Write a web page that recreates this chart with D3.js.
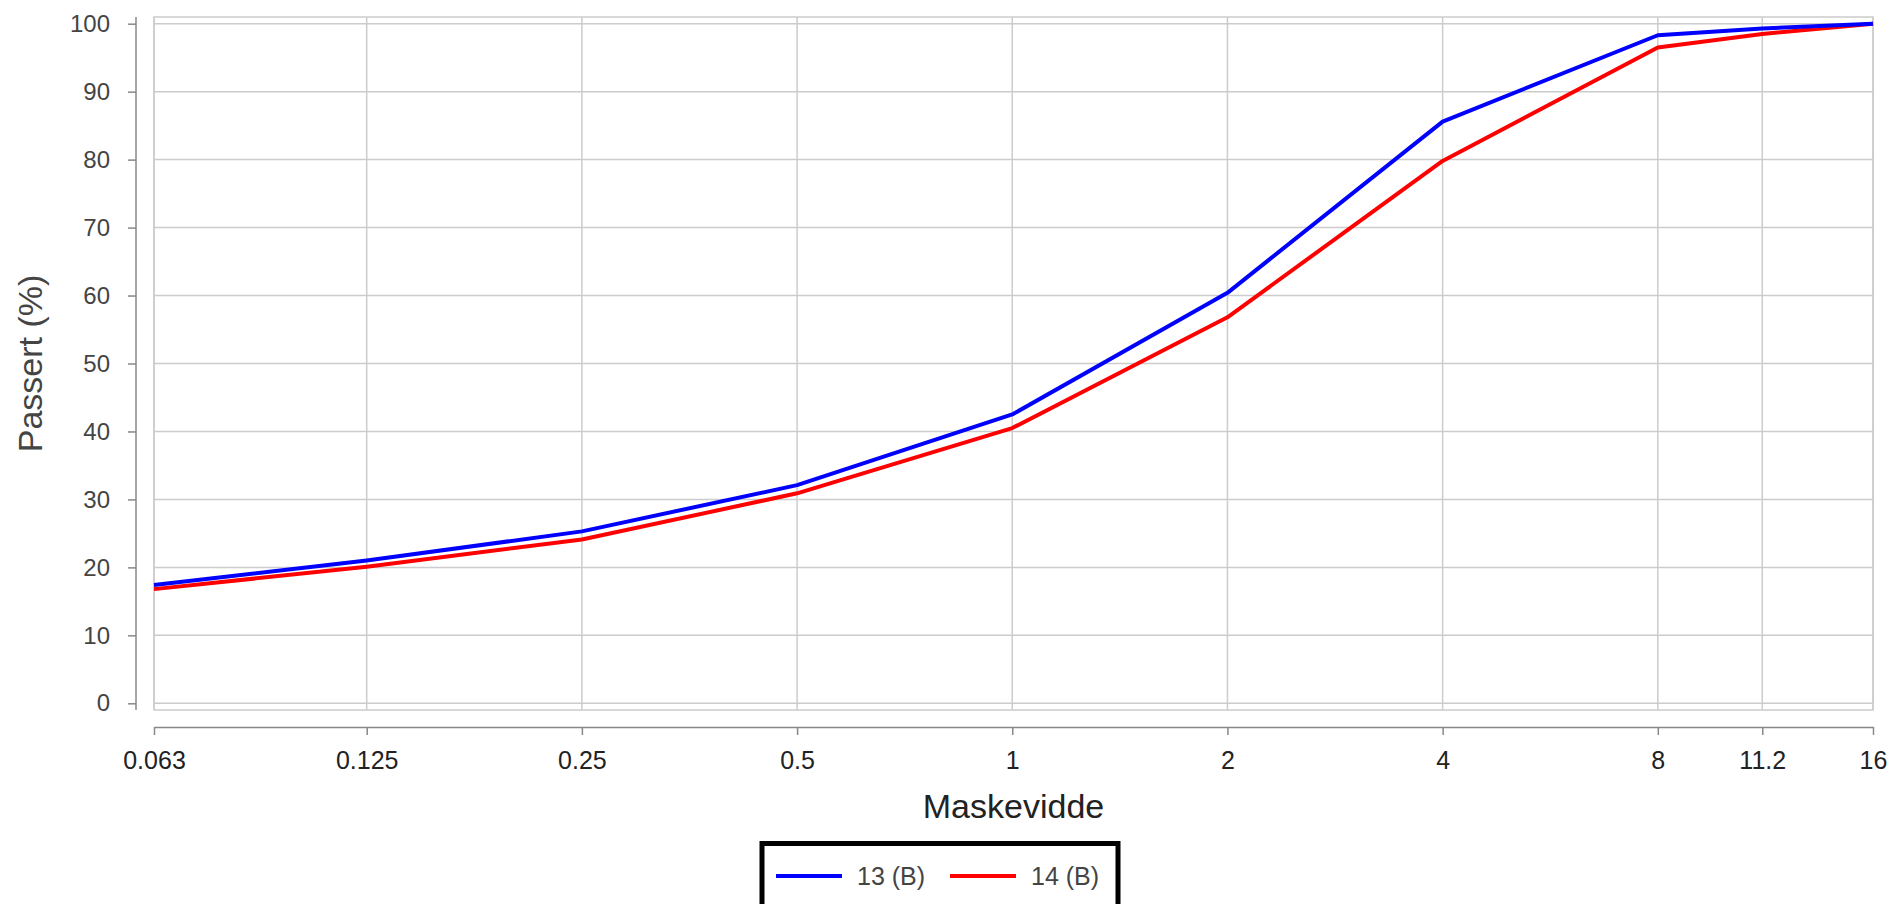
<!DOCTYPE html>
<html>
<head>
<meta charset="utf-8">
<script src="https://cdn.jsdelivr.net/npm/d3@7"></script>
<style>
  html, body { margin: 0; padding: 0; background: #fff; }
  svg { display: block; font-family: "Liberation Sans", Arial, sans-serif; }
</style>
</head>
<body>
<svg id="chart" width="1892" height="904"></svg>
<script>
// sieve sizes (mm) and passing percentages
const sieves = [0.063, 0.125, 0.25, 0.5, 1, 2, 4, 8, 11.2, 16];
const xTickLabels = ["0.063", "0.125", "0.25", "0.5", "1", "2", "4", "8", "11.2", "16"];
const yTicks = [0, 10, 20, 30, 40, 50, 60, 70, 80, 90, 100];

const seriesNames = ["13 (B)", "14 (B)"];
const seriesColors = ["#0000ff", "#ff0000"];
const values13 = [17.4, 21.0, 25.3, 32.1, 42.5, 60.4, 85.6, 98.3, 99.3, 100];
const values14 = [16.8, 20.1, 24.1, 30.9, 40.5, 56.8, 79.8, 96.5, 98.5, 100];

const svg = d3.select("#chart");

// plot frame
const plot = { left: 154, right: 1873, top: 17, bottom: 710 };
const pad = 6.7;

const x = d3.scaleLog().base(2)
  .domain([sieves[0], sieves[sieves.length - 1]])
  .range([plot.left, plot.right]);

const y = d3.scaleLinear()
  .domain([0, 100])
  .range([plot.bottom - pad, plot.top + pad]);

// background frame
svg.append("rect")
  .attr("x", plot.left)
  .attr("y", plot.top)
  .attr("width", plot.right - plot.left)
  .attr("height", plot.bottom - plot.top)
  .attr("fill", "#fff")
  .attr("stroke", "#cccccc")
  .attr("stroke-width", 1.5);

// grid
const grid = svg.append("g").attr("class", "grid");
grid.selectAll(".hgrid")
  .data(yTicks)
  .join("line")
  .attr("class", "hgrid")
  .attr("x1", plot.left)
  .attr("x2", plot.right)
  .attr("y1", d => y(d))
  .attr("y2", d => y(d))
  .attr("stroke", "#cccccc")
  .attr("stroke-width", 1.5);

grid.selectAll(".vgrid")
  .data(sieves)
  .join("line")
  .attr("class", "vgrid")
  .attr("x1", d => x(d))
  .attr("x2", d => x(d))
  .attr("y1", plot.top)
  .attr("y2", plot.bottom)
  .attr("stroke", "#cccccc")
  .attr("stroke-width", 1.5);

// y axis
const yAxisX = 136;
const yAxis = svg.append("g")
  .attr("transform", `translate(${yAxisX},0)`)
  .call(d3.axisLeft(y).tickValues(yTicks).tickSize(8).tickPadding(18).tickSizeOuter(0));
yAxis.select(".domain").remove();
yAxis.append("line")
  .attr("x1", 0).attr("x2", 0)
  .attr("y1", plot.top).attr("y2", plot.bottom)
  .attr("stroke", "#888");
yAxis.selectAll(".tick line").attr("stroke", "#888");
yAxis.selectAll("line").attr("stroke-width", 1.5);
yAxis.selectAll(".tick text")
  .attr("font-size", 24)
  .attr("fill", "#444")
  .attr("font-family", "Liberation Sans, Arial, sans-serif");

// x axis
const xAxisY = 727;
const xAxis = svg.append("g")
  .attr("transform", `translate(0,${xAxisY})`)
  .call(d3.axisBottom(x).tickValues(sieves)
    .tickFormat((d, i) => xTickLabels[i])
    .tickSize(8).tickPadding(16).tickSizeOuter(0));
xAxis.select(".domain").attr("stroke", "#888").attr("stroke-width", 1.5);
xAxis.selectAll(".tick line").attr("stroke", "#888").attr("stroke-width", 1.5);
xAxis.selectAll(".tick text")
  .attr("font-size", 25)
  .attr("fill", "#222")
  .attr("font-family", "Liberation Sans, Arial, sans-serif");

// axis titles
svg.append("text")
  .attr("transform", `translate(42,${(plot.top + plot.bottom) / 2}) rotate(-90)`)
  .attr("text-anchor", "middle")
  .attr("font-size", 34)
  .attr("fill", "#444")
  .text("Passert (%)");

svg.append("text")
  .attr("x", (plot.left + plot.right) / 2)
  .attr("y", 818)
  .attr("text-anchor", "middle")
  .attr("font-size", 34)
  .attr("fill", "#222")
  .text("Maskevidde");

// lines
const series = [values13, values14].map((vals, i) => ({
  name: seriesNames[i],
  color: seriesColors[i],
  points: sieves.map((s, j) => [s, vals[j]])
}));

const line = d3.line()
  .x(d => x(d[0]))
  .y(d => y(d[1]));

// red first so blue sits on top where they meet
svg.append("g")
  .selectAll("path")
  .data(series.slice().reverse())
  .join("path")
  .attr("fill", "none")
  .attr("stroke", d => d.color)
  .attr("stroke-width", 4)
  .attr("stroke-linejoin", "round")
  .attr("d", d => line(d.points));

// legend
const legend = svg.append("g").attr("class", "legend");
legend.append("rect")
  .attr("x", 762)
  .attr("y", 843.5)
  .attr("width", 356)
  .attr("height", 90)
  .attr("fill", "#fff")
  .attr("stroke", "#000")
  .attr("stroke-width", 5);

const item = legend.selectAll(".item")
  .data(series)
  .join("g")
  .attr("class", "item")
  .attr("transform", (d, i) => `translate(${776 + i * 174},876)`);

item.append("line")
  .attr("x1", 0).attr("x2", 66)
  .attr("y1", 0).attr("y2", 0)
  .attr("stroke", d => d.color)
  .attr("stroke-width", 4);

item.append("text")
  .attr("x", 81)
  .attr("dy", "0.35em")
  .attr("font-size", 25)
  .attr("fill", "#444")
  .text(d => d.name);
</script>
</body>
</html>
